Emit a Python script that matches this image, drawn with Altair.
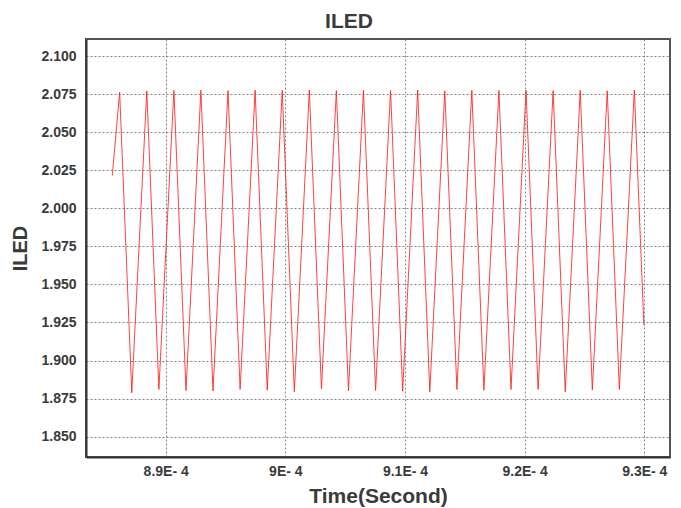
import altair as alt
import pandas as pd

# vertex times in seconds and values
start_time = [8.85535e-4]
start_val = [2.0215]
peak_times = [8.86154e-4, 8.88420e-4, 8.90686e-4, 8.92943e-4, 8.95209e-4, 8.97475e-4,
              8.99741e-4, 9.02006e-4, 9.04264e-4, 9.06530e-4, 9.08796e-4, 9.11061e-4,
              9.13327e-4, 9.15585e-4, 9.17851e-4, 9.20116e-4, 9.22382e-4, 9.24648e-4,
              9.26905e-4, 9.29171e-4]
peak_vals = [2.0763, 2.0772, 2.0775, 2.0776, 2.0774, 2.0776, 2.0775, 2.0777, 2.0774,
             2.0776, 2.0775, 2.0777, 2.0773, 2.0776, 2.0775, 2.0777, 2.0774, 2.0776,
             2.0773, 2.0777]
trough_times = [8.87166e-4, 8.89432e-4, 8.91698e-4, 8.93955e-4, 8.96221e-4, 8.98487e-4,
                9.00753e-4, 9.03018e-4, 9.05276e-4, 9.07542e-4, 9.09808e-4, 9.12073e-4,
                9.14339e-4, 9.16597e-4, 9.18863e-4, 9.21128e-4, 9.23394e-4, 9.25660e-4,
                9.27917e-4]
trough_vals = [1.8788, 1.8810, 1.8802, 1.8800, 1.8810, 1.8805, 1.8795, 1.8815, 1.8800,
               1.8802, 1.8798, 1.8795, 1.8810, 1.8805, 1.8810, 1.8810, 1.8795, 1.8806,
               1.8810]
end_time = [9.29966e-4]
end_val = [1.9233]

x_ticks = [8.9e-4, 9.0e-4, 9.1e-4, 9.2e-4, 9.3e-4]
y_ticks = [1.850, 1.875, 1.900, 1.925, 1.950, 1.975, 2.000, 2.025, 2.050, 2.075, 2.100]

times = start_time + peak_times + trough_times + end_time
vals = start_val + peak_vals + trough_vals + end_val
df = pd.DataFrame({"t": times, "v": vals}).sort_values("t").reset_index(drop=True)
df["order"] = range(len(df))

FONT = "Liberation Sans"
TXT = "#3a3a3a"

chart = alt.Chart(df).mark_line(color="#ff2020", strokeWidth=1, opacity=0.85).encode(
    x=alt.X("t:Q",
            scale=alt.Scale(domain=[8.8334e-4, 9.3215e-4], nice=False, zero=False),
            axis=alt.Axis(values=x_ticks, title="Time(Second)",
                          labelExpr="format(datum.value*10000, '.1~f') + 'E- 4'",
                          ticks=False, labelPadding=7, titlePadding=7,
                          labelFontSize=14, titleFontSize=21)),
    y=alt.Y("v:Q",
            scale=alt.Scale(domain=[1.8366, 2.1113], nice=False, zero=False),
            axis=alt.Axis(values=y_ticks, title="ILED", format=".3f",
                          ticks=False, labelPadding=10, titlePadding=10,
                          labelFontSize=14, titleFontSize=20)),
    order="order:Q",
).properties(
    width=584, height=418,
    title=alt.TitleParams("ILED", fontSize=21, font=FONT, fontWeight="bold",
                          color=TXT, anchor="middle", dx=-29, offset=7),
    autosize=alt.AutoSizeParams(type="none"),
    padding={"left": 78, "top": 31, "right": 3, "bottom": 50},
).configure_axis(
    labelFont=FONT, titleFont=FONT, labelFontWeight="bold", titleFontWeight="bold",
    labelColor=TXT, titleColor=TXT,
    grid=True, gridColor="#777777", gridDash=[2, 2], gridWidth=1, gridOpacity=0.9,
    domainColor="#333333", domainWidth=2,
).configure_view(
    stroke="#555555", strokeWidth=2,
)

chart.save("out.html", embed_options={"renderer": "svg", "actions": False})
